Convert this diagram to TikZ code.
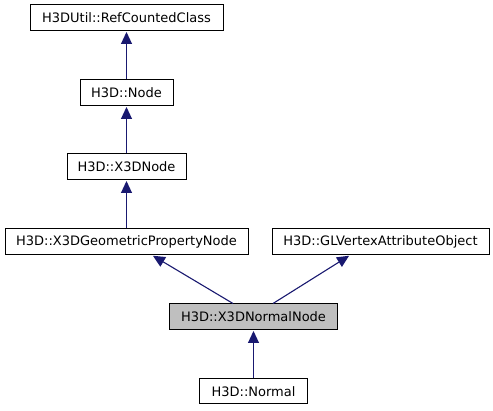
\documentclass[tikz,border=0pt]{standalone}
\usepackage{fontspec}
\setmainfont{DejaVu Sans}
\usetikzlibrary{arrows.meta}
\definecolor{edgeblue}{HTML}{191970}
\definecolor{boxgray}{HTML}{BFBFBF}
\begin{document}
\begin{tikzpicture}[x=1pt,y=-1pt,
  cls/.style={draw=black,line width=1pt,fill=white,inner sep=0pt,minimum height=26pt,
    font=\fontsize{13}{15}\selectfont,text=black},
  edge/.style={draw=edgeblue,line width=1.1pt,-{Triangle[length=12pt,width=11pt]},shorten >=0.5pt}]
\useasboundingbox (0,0) rectangle (493,411);
\node[cls,minimum width=193pt] (rc) at (126.5,18) {H3DUtil::RefCountedClass};
\node[cls,minimum width=93pt] (nd) at (126.5,93) {H3D::Node};
\node[cls,minimum width=119pt] (x3d) at (126.5,167) {H3D::X3DNode};
\node[cls,minimum width=243pt] (geo) at (126.5,242) {H3D::X3DGeometricPropertyNode};
\node[cls,minimum width=217pt] (gl) at (380.5,242) {H3D::GLVertexAttributeObject};
\node[cls,minimum width=168pt,fill=boxgray] (nn) at (253.5,317) {H3D::X3DNormalNode};
\node[cls,minimum width=108pt,minimum height=25pt] (nrm) at (253.5,391.5) {H3D::Normal};
\draw[edge] (nd.north) -- (rc.south);
\draw[edge] (x3d.north) -- (nd.south);
\draw[edge] (geo.north) -- (x3d.south);
\draw[edge] ([xshift=64pt]nn.north west) -- ([xshift=148pt]geo.south west);
\draw[edge] ([xshift=104pt]nn.north west) -- ([xshift=78pt]gl.south west);
\draw[edge] (nrm.north) -- (nn.south);
\end{tikzpicture}
\end{document}
